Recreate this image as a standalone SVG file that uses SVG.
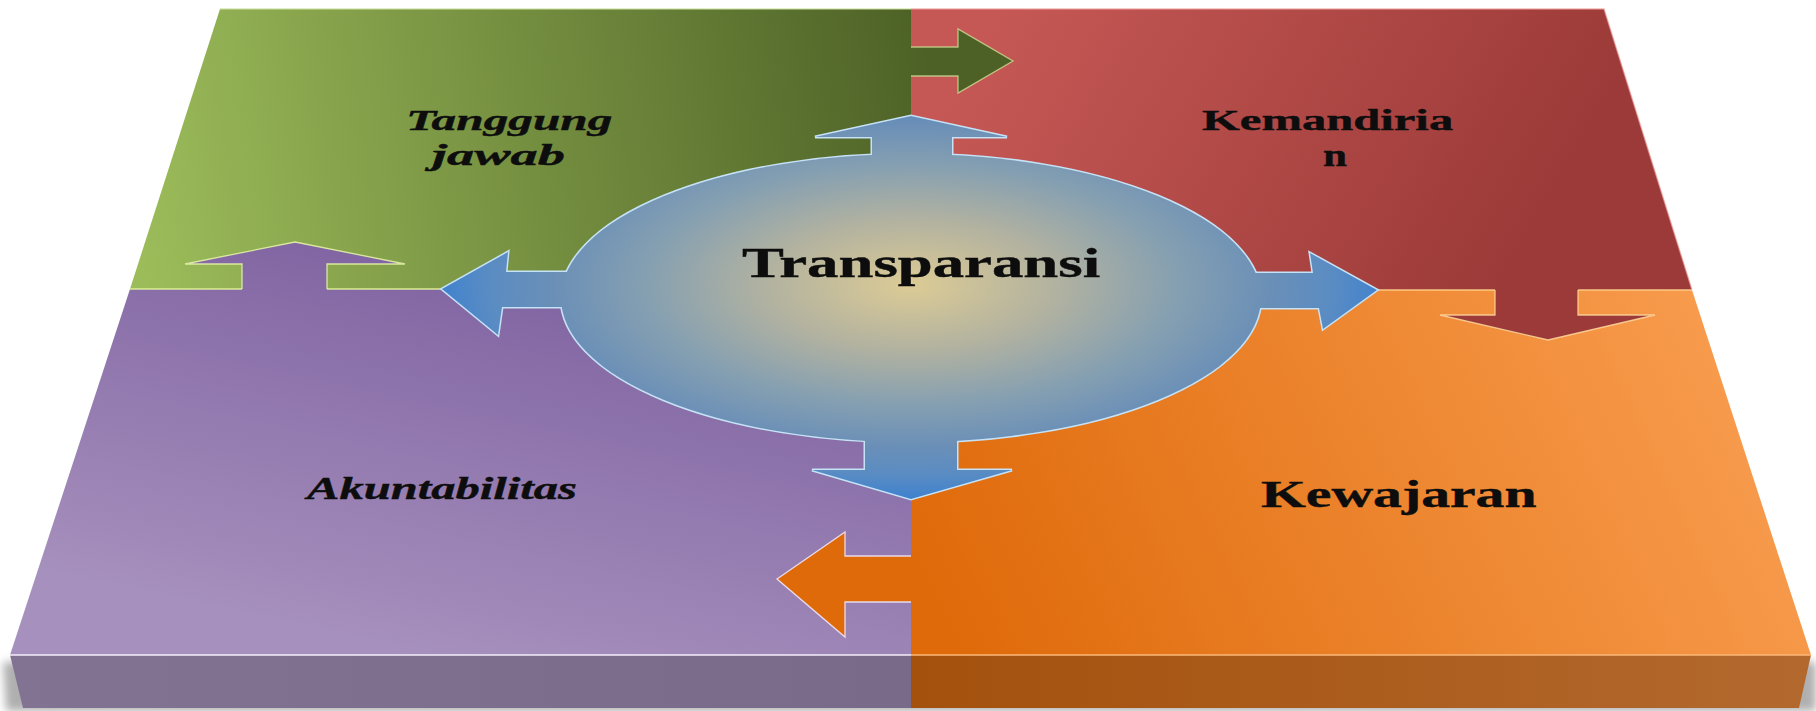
<svg xmlns="http://www.w3.org/2000/svg" xmlns:xlink="http://www.w3.org/1999/xlink" width="1816" height="711" viewBox="0 0 1816 711">
  <defs>
    <!-- quadrant fills (user space so arrows continue their quadrant's shading) -->
    <linearGradient id="gGreen" gradientUnits="userSpaceOnUse" x1="130" y1="200" x2="930" y2="60">
      <stop offset="0" stop-color="#9cbc5a"/>
      <stop offset="1" stop-color="#4d6126"/>
    </linearGradient>
    <linearGradient id="gRed" gradientUnits="userSpaceOnUse" x1="1000" y1="9" x2="1500" y2="300">
      <stop offset="0" stop-color="#c55855"/>
      <stop offset="1" stop-color="#9b3a38"/>
    </linearGradient>
    <linearGradient id="gPurple" gradientUnits="userSpaceOnUse" x1="500" y1="289" x2="420" y2="655">
      <stop offset="0" stop-color="#8266a3"/>
      <stop offset="1" stop-color="#a690bd"/>
    </linearGradient>
    <linearGradient id="gOrange" gradientUnits="userSpaceOnUse" x1="960" y1="650" x2="1720" y2="300">
      <stop offset="0" stop-color="#df6a0a"/>
      <stop offset="1" stop-color="#f89c4e"/>
    </linearGradient>
    <linearGradient id="gFrontL" gradientUnits="userSpaceOnUse" x1="10" y1="0" x2="911" y2="0">
      <stop offset="0" stop-color="#837392"/>
      <stop offset="1" stop-color="#7a6a8a"/>
    </linearGradient>
    <linearGradient id="gFrontR" gradientUnits="userSpaceOnUse" x1="911" y1="0" x2="1811" y2="0">
      <stop offset="0" stop-color="#a4510d"/>
      <stop offset="1" stop-color="#b3692e"/>
    </linearGradient>
    <radialGradient id="gCore" gradientUnits="userSpaceOnUse" cx="911" cy="285" r="480" gradientTransform="translate(911 285) scale(1 0.45) translate(-911 -285)">
      <stop offset="0" stop-color="#dccb95"/>
      <stop offset="0.3" stop-color="#b2b2a0"/>
      <stop offset="0.55" stop-color="#86a0b1"/>
      <stop offset="0.75" stop-color="#6a8fb7"/>
      <stop offset="0.88" stop-color="#5a8cc3"/>
      <stop offset="1" stop-color="#3b80d0"/>
    </radialGradient>
    <filter id="soft" x="-5%" y="-50%" width="110%" height="200%">
      <feGaussianBlur stdDeviation="4"/>
    </filter>

    <!-- centre shape: ellipse with four blue arrows -->
    <g id="coreShape">
      <ellipse cx="911" cy="298" rx="350" ry="144"/>
      <polygon points="872,170 872,137 815,137 911,116 1007,137 952,137 952,170"/>
      <polygon points="580,272 506,272 508,252 442,289 498,335 502,307 580,307"/>
      <polygon points="1240,273 1313,273 1310,253 1377,290 1323,329 1319,308 1240,308"/>
      <polygon points="865,430 865,470 812,470 911,499 1012,470 957,470 957,430"/>
    </g>
  </defs>

  <style>
    .lbl { font-family: "Liberation Serif", "Times New Roman", serif; font-weight: bold; fill: #0d0d0d; stroke: #0d0d0d; stroke-width: 0.4; }
    .it { font-style: italic; }
    .edge { fill: none; stroke-width: 1.3; stroke-linejoin: miter; }
  </style>

  <!-- board thickness and its shadow -->
  <g id="board">
    <polygon points="3,662 1816,662 1816,711 6,711" fill="#6e6e6e" opacity="0.55" filter="url(#soft)"/>
    <polygon points="10,655 911,655 911,708 23,708" fill="url(#gFrontL)"/>
    <polygon points="911,655 1811,655 1799,708 911,708" fill="url(#gFrontR)"/>
  </g>

  <g id="node-tanggung-jawab">
    <polygon points="220,9 911,9 911,289 130,289" fill="url(#gGreen)"/>
    <polyline class="edge" points="220,9 911,9" stroke="#c9dd98" opacity="0.7"/>
    <text class="lbl it" transform="translate(406 130) scale(1.6 1)" font-size="29" textLength="129" lengthAdjust="spacingAndGlyphs">Tanggung</text>
    <text class="lbl it" transform="translate(432 165) scale(1.6 1)" font-size="29" textLength="83" lengthAdjust="spacingAndGlyphs">jawab</text>
  </g>

  <g id="node-kemandirian">
    <polygon points="911,9 1604,9 1692,290 911,290" fill="url(#gRed)"/>
    <polyline class="edge" points="911,9 1604,9 1692,290" stroke="#eb9a96" opacity="0.7"/>
    <text class="lbl" transform="translate(1202 130) scale(1.6 1)" font-size="30" textLength="157" lengthAdjust="spacingAndGlyphs">Kemandiria</text>
    <text class="lbl" transform="translate(1323 166) scale(1.5 1)" font-size="32" textLength="16" lengthAdjust="spacingAndGlyphs">n</text>
  </g>

  <g id="node-akuntabilitas">
    <polygon points="130,289 911,289 911,655 10,655" fill="url(#gPurple)"/>
    <polyline class="edge" points="130,289 242,289" stroke="#e4f59a" opacity="0.9"/>
    <polyline class="edge" points="327,289 442,289" stroke="#e4f59a" opacity="0.9"/>
    <polyline class="edge" points="10,655 911,655" stroke="#f4eefa" stroke-width="2"/>
    <text class="lbl it" transform="translate(307 499) scale(1.5 1)" font-size="32" textLength="180" lengthAdjust="spacingAndGlyphs">Akuntabilitas</text>
  </g>

  <g id="node-kewajaran">
    <polygon points="911,290 1692,290 1811,655 911,655" fill="url(#gOrange)"/>
    <polyline class="edge" points="1377,290 1495,290" stroke="#ffd08a" opacity="0.9"/>
    <polyline class="edge" points="1578,290 1692,290" stroke="#ffd08a" opacity="0.9"/>
    <polyline class="edge" points="911,655 1811,655" stroke="#fbb978" stroke-width="2"/>
    <text class="lbl" transform="translate(1261 507) scale(1.45 1)" font-size="38" textLength="190" lengthAdjust="spacingAndGlyphs">Kewajaran</text>
  </g>

  <!-- arrows carried from one quadrant into the next -->
  <g id="connectors">
    <polygon points="903,47 958,47 958,29 1013,61 958,93 958,76 903,76" fill="url(#gGreen)"/>
    <polyline class="edge" points="911,47 958,47 958,29 1013,61 958,93 958,76 911,76" stroke="#d2e49a" opacity="0.75"/>

    <polygon points="1495,282 1495,315 1440,315 1548,340 1655,315 1578,315 1578,282" fill="url(#gRed)"/>
    <polyline class="edge" points="1495,290 1495,315 1440,315 1548,340 1655,315 1578,315 1578,290" stroke="#ffd89e" opacity="0.85"/>

    <polygon points="242,297 242,264 185,264 295,242 405,264 327,264 327,297" fill="url(#gPurple)"/>
    <polyline class="edge" points="242,289 242,264 185,264 295,242 405,264 327,264 327,289" stroke="#e8f7a8" opacity="0.85"/>

    <polygon points="919,556 845,556 845,532 777,579 845,637 845,602 919,602" fill="url(#gOrange)"/>
    <polyline class="edge" points="911,556 845,556 845,532 777,579 845,637 845,602 911,602" stroke="#efe6f8" opacity="0.9"/>
  </g>

  <g id="node-transparansi">
    <use xlink:href="#coreShape" href="#coreShape" fill="none" stroke="#c6e2f6" stroke-width="3"/>
    <use xlink:href="#coreShape" href="#coreShape" fill="url(#gCore)" stroke="none"/>
    <text class="lbl" transform="translate(742 277) scale(1.45 1)" font-size="42" textLength="247" lengthAdjust="spacingAndGlyphs">Transparansi</text>
  </g>
</svg>
